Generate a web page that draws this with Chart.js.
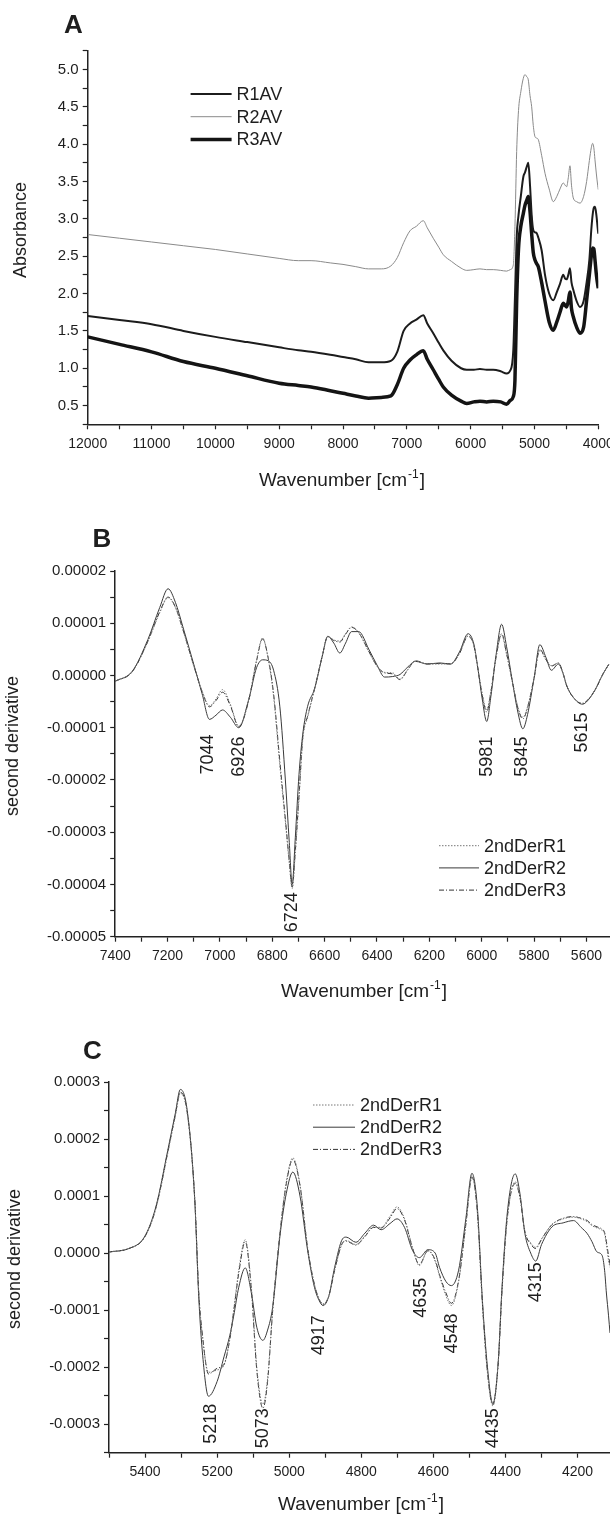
<!DOCTYPE html>
<html>
<head>
<meta charset="utf-8">
<script src="https://cdn.jsdelivr.net/npm/chart.js@4.4.0/dist/chart.umd.min.js"></script>
<style>
    html, body { margin: 0; padding: 0; background: #fff; }
    body { width: 610px; height: 1515px; position: relative; overflow: hidden; }
    .panel { position: absolute; left: 0; width: 610px; }
    #panelA { top: 0; height: 500px; }
    #panelB { top: 500px; height: 510px; }
    #panelC { top: 1000px; height: 515px; }
</style>
</head>
<body>
<div class="panel" id="panelA"><canvas id="chartA"></canvas></div>
<div class="panel" id="panelB"><canvas id="chartB"></canvas></div>
<div class="panel" id="panelC"><canvas id="chartC"></canvas></div>
<script>
// ---- Panel A: absorbance spectra ----
const wavenumberA = [
    12000, 11500, 11000, 10500, 10000, 9500, 9000, 8700, 8500, 8200,
    8000, 7800, 7600, 7400, 7250, 7150, 7050, 6950, 6850, 6742,
    6680, 6586, 6500, 6429, 6300, 6150, 6062, 5950, 5854, 5750,
    5646, 5530, 5436, 5380, 5332, 5306, 5279, 5250, 5214, 5175,
    5149, 5120, 5097, 5070, 5044, 5019, 4992, 4966, 4940, 4888,
    4835, 4770, 4705, 4650, 4600, 4549, 4520, 4496, 4470, 4444,
    4420, 4392, 4340, 4287, 4230, 4183, 4140, 4110, 4089, 4070,
    4052, 4030, 4010, 4000
];
const r1AV = [
    1.70, 1.645, 1.59, 1.50, 1.42, 1.35, 1.28, 1.24, 1.22, 1.18,
    1.15, 1.12, 1.08, 1.08, 1.10, 1.22, 1.50, 1.60, 1.65, 1.71,
    1.60, 1.47, 1.34, 1.24, 1.10, 1.00, 0.98, 0.98, 0.99, 0.98,
    0.98, 0.96, 0.93, 0.97, 1.24, 1.95, 2.75, 3.05, 3.30, 3.56,
    3.62, 3.70, 3.75, 3.45, 3.05, 2.85, 2.82, 2.81, 2.75, 2.58,
    2.25, 2.00, 1.91, 2.02, 2.13, 2.25, 2.20, 2.19, 2.25, 2.34,
    2.15, 2.05, 1.90, 1.82, 1.90, 2.15, 2.45, 2.85, 3.05, 3.15,
    3.16, 3.05, 2.88, 2.80
];
const r2AV = [
    2.79, 2.74, 2.69, 2.64, 2.59, 2.53, 2.47, 2.44, 2.44, 2.41,
    2.39, 2.36, 2.33, 2.33, 2.37, 2.48, 2.68, 2.84, 2.90, 2.975,
    2.88, 2.74, 2.62, 2.52, 2.43, 2.34, 2.31, 2.32, 2.33, 2.32,
    2.32, 2.31, 2.30, 2.32, 2.38, 2.90, 3.90, 4.45, 4.70, 4.88,
    4.93, 4.90, 4.86, 4.65, 4.50, 4.25, 4.10, 4.08, 4.06, 3.85,
    3.61, 3.40, 3.23, 3.30, 3.40, 3.48, 3.45, 3.43, 3.55, 3.71,
    3.45, 3.28, 3.23, 3.21, 3.30, 3.50, 3.78, 3.95, 4.01, 3.95,
    3.79, 3.60, 3.45, 3.39
];
const r3AV = [
    1.42, 1.32, 1.22, 1.09, 1.00, 0.90, 0.80, 0.77, 0.75, 0.70,
    0.665, 0.63, 0.60, 0.61, 0.63, 0.78, 1.00, 1.11, 1.18, 1.235,
    1.12, 0.98, 0.85, 0.75, 0.64, 0.56, 0.53, 0.55, 0.56, 0.55,
    0.56, 0.55, 0.52, 0.57, 0.62, 0.84, 1.90, 2.60, 2.90, 3.07,
    3.18, 3.25, 3.30, 3.10, 2.80, 2.55, 2.45, 2.40, 2.36, 2.15,
    1.90, 1.62, 1.51, 1.62, 1.75, 1.87, 1.84, 1.82, 1.90, 2.02,
    1.80, 1.69, 1.55, 1.47, 1.55, 1.91, 2.25, 2.50, 2.61, 2.60,
    2.45, 2.25, 2.12, 2.07
];

// ---- Panel B: second derivative 7400-5500 (values in units of 1e-5) ----
const wavenumberB = [
    7400, 7335, 7275, 7230, 7198, 7170, 7142, 7098, 7068, 7040,
    7015, 6990, 6960, 6928, 6890, 6860, 6837, 6815, 6795, 6771,
    6750, 6735, 6724, 6712, 6698, 6683, 6665, 6638, 6610, 6588,
    6565, 6542, 6520, 6497, 6470, 6431, 6400, 6371, 6340, 6312,
    6285, 6253, 6208, 6160, 6119, 6085, 6052, 6030, 6015, 5998,
    5981, 5965, 5945, 5924, 5905, 5882, 5862, 5843, 5825, 5800,
    5778, 5755, 5734, 5707, 5690, 5675, 5650, 5615, 5590, 5563,
    5540, 5515
];
const derR1B = [
    -0.11, 0.07, 0.65, 1.20, 1.49, 1.30, 0.88, 0.15, -0.30, -0.58,
    -0.45, -0.27, -0.55, -0.97, -0.46, 0.30, 0.72, 0.30, -0.40, -1.73,
    -2.80, -3.60, -4.08, -3.40, -2.37, -1.20, -0.80, -0.25, 0.35, 0.75,
    0.68, 0.66, 0.80, 0.93, 0.82, 0.45, 0.18, 0.06, 0.05, -0.07,
    0.10, 0.28, 0.22, 0.22, 0.22, 0.42, 0.76, 0.58, 0.15, -0.35,
    -0.65, -0.30, 0.35, 0.78, 0.40, -0.14, -0.60, -0.80, -0.60, -0.05,
    0.48, 0.30, 0.19, 0.24, 0.05, -0.20, -0.42, -0.53, -0.44, -0.24,
    0.00, 0.21
];
const derR2B = [
    -0.11, 0.08, 0.69, 1.30, 1.66, 1.40, 0.94, 0.18, -0.35, -0.84,
    -0.76, -0.66, -0.80, -1.00, -0.46, 0.15, 0.30, 0.28, 0.10, -0.60,
    -2.00, -3.20, -4.00, -3.10, -1.90, -1.10, -0.59, -0.25, 0.35, 0.75,
    0.62, 0.43, 0.62, 0.84, 0.84, 0.50, 0.20, -0.03, -0.02, 0.02,
    0.15, 0.27, 0.22, 0.24, 0.22, 0.45, 0.80, 0.60, 0.15, -0.45,
    -0.88, -0.40, 0.40, 0.98, 0.55, -0.14, -0.70, -1.02, -0.75, -0.05,
    0.59, 0.35, 0.10, 0.22, 0.05, -0.20, -0.42, -0.55, -0.45, -0.24,
    0.00, 0.21
];
const derR3B = [
    -0.11, 0.07, 0.66, 1.22, 1.50, 1.31, 0.89, 0.16, -0.31, -0.60,
    -0.48, -0.32, -0.58, -0.98, -0.48, 0.28, 0.70, 0.32, -0.35, -1.65,
    -2.75, -3.55, -4.05, -3.35, -2.30, -1.15, -0.78, -0.24, 0.35, 0.74,
    0.67, 0.64, 0.79, 0.92, 0.82, 0.46, 0.18, 0.05, 0.03, -0.08,
    0.09, 0.28, 0.22, 0.23, 0.22, 0.42, 0.75, 0.57, 0.14, -0.38,
    -0.70, -0.32, 0.36, 0.80, 0.42, -0.14, -0.62, -0.83, -0.62, -0.05,
    0.50, 0.31, 0.18, 0.24, 0.05, -0.20, -0.42, -0.54, -0.44, -0.24,
    0.00, 0.21
];

// ---- Panel C: second derivative 5500-4100 (values in units of 1e-4) ----
const wavenumberC = [
    5499, 5445, 5402, 5370, 5337, 5316, 5302, 5283, 5262, 5251,
    5240, 5224, 5200, 5181, 5165, 5154, 5140, 5122, 5105, 5090,
    5073, 5060, 5046, 5025, 5008, 4990, 4970, 4949, 4930, 4917,
    4906, 4890, 4874, 4852, 4842, 4815, 4790, 4766, 4745, 4720,
    4701, 4680, 4658, 4639, 4615, 4595, 4583, 4565, 4550, 4530,
    4510, 4493, 4478, 4464, 4450, 4435, 4420, 4410, 4395, 4373,
    4360, 4346, 4330, 4316, 4300, 4271, 4240, 4211, 4190, 4173,
    4160, 4146, 4132, 4125, 4120, 4114, 4110
];
const derR1C = [
    0.02, 0.08, 0.27, 0.78, 1.75, 2.40, 2.80, 2.45, 0.92, -0.70,
    -1.50, -2.09, -2.05, -1.97, -1.50, -1.00, -0.30, 0.235, -0.60, -2.00,
    -2.65, -2.20, -1.00, 0.40, 1.25, 1.67, 1.20, 0.10, -0.55, -0.80,
    -0.89, -0.75, -0.30, 0.18, 0.22, 0.15, 0.30, 0.46, 0.45, 0.65,
    0.81, 0.60, 0.10, -0.22, 0.05, -0.15, -0.40, -0.75, -0.92, -0.50,
    0.50, 1.35, 0.70, -0.90, -2.10, -2.68, -1.90, -0.70, 0.60, 1.25,
    1.00, 0.38, 0.18, 0.10, 0.25, 0.50, 0.60, 0.63, 0.60, 0.55,
    0.48, 0.44, 0.40, 0.34, 0.15, -0.13, -0.25
];
const derR2C = [
    0.02, 0.08, 0.28, 0.81, 1.80, 2.45, 2.87, 2.50, 0.92, -0.77,
    -1.80, -2.51, -2.25, -1.82, -1.45, -1.10, -0.60, -0.26, -0.70, -1.30,
    -1.53, -1.35, -0.95, 0.34, 1.05, 1.42, 1.00, 0.05, -0.60, -0.83,
    -0.92, -0.75, -0.25, 0.25, 0.28, 0.19, 0.35, 0.49, 0.41, 0.52,
    0.60, 0.45, 0.05, -0.08, 0.06, 0.00, -0.25, -0.50, -0.57, -0.30,
    0.60, 1.40, 0.80, -0.83, -2.00, -2.64, -1.90, -0.65, 0.70, 1.39,
    1.05, 0.34, 0.00, -0.14, 0.15, 0.46, 0.53, 0.57, 0.45, 0.34,
    0.20, 0.02, -0.04, -0.30, -0.70, -1.10, -1.40
];
const derR3C = [
    0.02, 0.08, 0.27, 0.79, 1.77, 2.42, 2.82, 2.47, 0.95, -0.68,
    -1.48, -2.12, -2.02, -1.95, -1.52, -1.02, -0.35, 0.20, -0.65, -2.05,
    -2.72, -2.25, -1.02, 0.38, 1.22, 1.64, 1.18, 0.09, -0.55, -0.81,
    -0.90, -0.75, -0.30, 0.18, 0.21, 0.14, 0.29, 0.45, 0.44, 0.62,
    0.78, 0.58, 0.09, -0.20, 0.04, -0.12, -0.38, -0.70, -0.88, -0.48,
    0.50, 1.33, 0.72, -0.88, -2.08, -2.66, -1.92, -0.70, 0.62, 1.22,
    0.98, 0.37, 0.16, 0.08, 0.24, 0.50, 0.61, 0.64, 0.61, 0.57,
    0.50, 0.46, 0.42, 0.36, 0.20, -0.05, -0.20
];

// Peak labels
const peaksB = [7044, 6926, 6724, 5981, 5845, 5615];
const peaksC = [5218, 5073, 4917, 4635, 4548, 4435, 4315];

const FONT = '"Liberation Sans", Arial, Helvetica, sans-serif';
const AXIS_COLOR = '#222';
const TEXT_COLOR = '#1e1e1e';

function toPoints(xs, ys, unit) {
    return xs.map((x, i) => ({ x: x, y: ys[i] * unit }));
}

function tickRange(from, to, step) {
    const out = [];
    for (let v = from; v <= to; v += step) out.push({ value: v });
    return out;
}

// Draws panel letter, axis titles, legend and peak labels
const panelText = {
    id: 'panelText',
    afterDraw(chart, args, o) {
        const ctx = chart.ctx;
        ctx.save();
        ctx.fillStyle = TEXT_COLOR;

        // panel letter
        ctx.font = 'bold 26px ' + FONT;
        ctx.textAlign = 'left';
        ctx.textBaseline = 'alphabetic';
        ctx.fillText(o.letter, o.letterX, o.letterY);

        // y title
        ctx.save();
        ctx.font = '18px ' + FONT;
        ctx.translate(o.yTitleX, o.yTitleY);
        ctx.rotate(-Math.PI / 2);
        ctx.textAlign = 'center';
        ctx.textBaseline = 'middle';
        ctx.fillText(o.yTitle, 0, 0);
        ctx.restore();

        // x title with superscript
        const main = 'Wavenumber [cm', sup = '-1', end = ']';
        ctx.font = '19px ' + FONT;
        const w1 = ctx.measureText(main).width;
        const w3 = ctx.measureText(end).width;
        ctx.font = '12px ' + FONT;
        const w2 = ctx.measureText(sup).width;
        let x = o.xTitleX - (w1 + w2 + w3 + 2) / 2;
        ctx.textAlign = 'left';
        ctx.font = '19px ' + FONT;
        ctx.fillText(main, x, o.xTitleY);
        x += w1 + 1;
        ctx.font = '12px ' + FONT;
        ctx.fillText(sup, x, o.xTitleY - 8);
        x += w2 + 1;
        ctx.font = '19px ' + FONT;
        ctx.fillText(end, x, o.xTitleY);

        // legend
        ctx.font = '18px ' + FONT;
        ctx.textBaseline = 'middle';
        chart.data.datasets.forEach((ds, i) => {
            const y = o.legendY + i * o.legendGap;
            ctx.save();
            ctx.strokeStyle = ds.borderColor;
            ctx.lineWidth = ds.borderWidth;
            ctx.setLineDash(ds.borderDash || []);
            ctx.beginPath();
            ctx.moveTo(o.legendX, y);
            ctx.lineTo(o.legendX + o.legendLen, y);
            ctx.stroke();
            ctx.restore();
            ctx.fillText(ds.label, o.legendX + o.legendLen + 5, y + 1);
        });

        // rotated peak labels
        if (o.peaks) {
            const xs = chart.scales.x, ys = chart.scales.y;
            ctx.font = '18px ' + FONT;
            o.peaks.forEach((p, i) => {
                ctx.save();
                ctx.translate(xs.getPixelForValue(p), ys.getPixelForValue(o.peakTops[i] * o.unit));
                ctx.rotate(-Math.PI / 2);
                ctx.textAlign = 'right';
                ctx.textBaseline = 'middle';
                ctx.fillText(String(p), 0, 0);
                ctx.restore();
            });
        }
        ctx.restore();
    }
};

function xAxis(min, max, firstTick, step, major, height) {
    return {
        type: 'linear',
        reverse: true,
        min: min,
        max: max,
        border: { display: true, color: AXIS_COLOR, width: 1.5 },
        grid: { drawOnChartArea: false, drawTicks: true, tickLength: 5, tickWidth: 1.2, tickColor: AXIS_COLOR },
        ticks: {
            autoSkip: false,
            maxRotation: 0,
            padding: 6,
            color: TEXT_COLOR,
            font: { family: FONT, size: 14 },
            callback: v => (Math.round(v) % major === 0 ? String(Math.round(v)) : '')
        },
        afterBuildTicks: s => { s.ticks = tickRange(firstTick, max, step); },
        afterFit: s => { s.height = height; s.paddingLeft = 0; s.paddingRight = 0; }
    };
}

function yAxis(min, max, step, labelFn, width) {
    return {
        type: 'linear',
        min: min,
        max: max,
        border: { display: true, color: AXIS_COLOR, width: 1.5 },
        grid: { drawOnChartArea: false, drawTicks: true, tickLength: 5, tickWidth: 1.2, tickColor: AXIS_COLOR },
        ticks: {
            stepSize: step,
            autoSkip: false,
            padding: 4,
            color: TEXT_COLOR,
            font: { family: FONT, size: 15 },
            callback: labelFn
        },
        afterFit: s => { s.width = width; s.paddingTop = 0; s.paddingBottom = 0; }
    };
}

function baseOptions(top, right, text, xs, ys) {
    return {
        responsive: true,
        maintainAspectRatio: false,
        animation: false,
        layout: { padding: { top: top, right: right, left: 0, bottom: 0 } },
        plugins: { legend: { display: false }, tooltip: { enabled: false }, panelText: text },
        elements: { point: { radius: 0 }, line: { cubicInterpolationMode: 'monotone' } },
        scales: { x: xs, y: ys }
    };
}

// Panel A
new Chart(document.getElementById('chartA'), {
    type: 'line',
    data: {
        datasets: [
            { label: 'R1AV', data: toPoints(wavenumberA, r1AV, 1), borderColor: '#1c1c1c', borderWidth: 2 },
            { label: 'R2AV', data: toPoints(wavenumberA, r2AV, 1), borderColor: '#8a8a8a', borderWidth: 1 },
            { label: 'R3AV', data: toPoints(wavenumberA, r3AV, 1), borderColor: '#141414', borderWidth: 3.5 }
        ]
    },
    options: baseOptions(50.7, 11.7, {
        letter: 'A', letterX: 64, letterY: 33,
        yTitle: 'Absorbance', yTitleX: 21, yTitleY: 230,
        xTitleX: 342, xTitleY: 486,
        legendX: 190.6, legendY: 94, legendGap: 22.7, legendLen: 41
    },
        xAxis(4000, 12000, 4000, 500, 1000, 500 - 424.3),
        yAxis(0.25, 5.25, 0.25, v => (Math.abs(v * 2 - Math.round(v * 2)) < 1e-9 ? v.toFixed(1) : ''), 87.7)),
    plugins: [panelText]
});

// Panel B
const unitB = 1e-5;
new Chart(document.getElementById('chartB'), {
    type: 'line',
    data: {
        datasets: [
            { label: '2ndDerR1', data: toPoints(wavenumberB, derR1B, unitB), borderColor: '#777', borderWidth: 1, borderDash: [1.5, 1.5] },
            { label: '2ndDerR2', data: toPoints(wavenumberB, derR2B, unitB), borderColor: '#3a3a3a', borderWidth: 1 },
            { label: '2ndDerR3', data: toPoints(wavenumberB, derR3B, unitB), borderColor: '#333', borderWidth: 1, borderDash: [5, 2, 1, 2] }
        ]
    },
    options: baseOptions(71, 0, {
        letter: 'B', letterX: 92.6, letterY: 47,
        yTitle: 'second derivative', yTitleX: 13, yTitleY: 246,
        xTitleX: 364, xTitleY: 497,
        legendX: 439, legendY: 345.7, legendGap: 22.2, legendLen: 40,
        peaks: peaksB, peakTops: [-1.13, -1.17, -4.15, -1.17, -1.17, -0.71], unit: unitB
    },
        xAxis(5510, 7400, 5600, 100, 200, 510 - 436.7),
        yAxis(-5e-5, 2e-5, 5e-6, v => {
            const k = Math.round(v / 1e-6);
            if (k % 10 !== 0) return '';
            return (k === 0 ? 0 : v).toFixed(5);
        }, 115.2)),
    plugins: [panelText]
});

// Panel C
const unitC = 1e-4;
new Chart(document.getElementById('chartC'), {
    type: 'line',
    data: {
        datasets: [
            { label: '2ndDerR1', data: toPoints(wavenumberC, derR1C, unitC), borderColor: '#777', borderWidth: 1, borderDash: [1.5, 1.5] },
            { label: '2ndDerR2', data: toPoints(wavenumberC, derR2C, unitC), borderColor: '#3a3a3a', borderWidth: 1 },
            { label: '2ndDerR3', data: toPoints(wavenumberC, derR3C, unitC), borderColor: '#333', borderWidth: 1, borderDash: [5, 2, 1, 2] }
        ]
    },
    options: baseOptions(82, 0, {
        letter: 'C', letterX: 83, letterY: 59,
        yTitle: 'second derivative', yTitleX: 15.5, yTitleY: 259,
        xTitleX: 361, xTitleY: 510,
        legendX: 313, legendY: 105, legendGap: 22.2, legendLen: 42,
        peaks: peaksC, peakTops: [-2.64, -2.72, -1.09, -0.43, -1.06, -2.72, -0.16], unit: unitC
    },
        xAxis(4110, 5500, 4200, 100, 200, 515 - 452.7),
        yAxis(-3.5e-4, 3e-4, 5e-5, v => {
            const k = Math.round(v / 1e-5);
            if (k % 10 !== 0) return '';
            return (k === 0 ? 0 : v).toFixed(4);
        }, 109)),
    plugins: [panelText]
});
</script>
</body>
</html>
